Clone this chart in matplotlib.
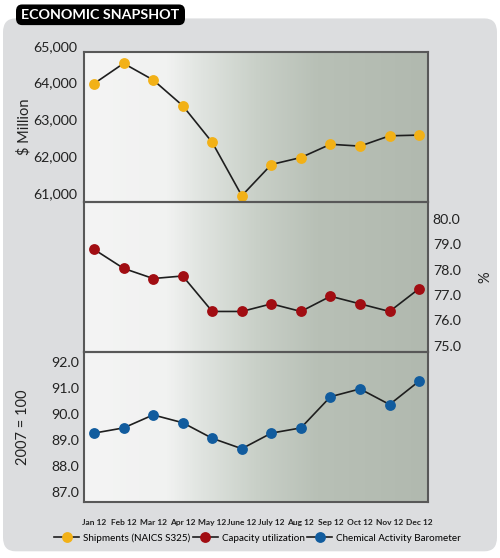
import numpy as np
import matplotlib.pyplot as plt
from matplotlib.colors import LinearSegmentedColormap
from matplotlib.patches import FancyBboxPatch
from matplotlib.lines import Line2D

# Data
months = ['Jan 12', 'Feb 12', 'Mar 12', 'Apr 12', 'May 12', 'June 12',
          'July 12', 'Aug 12', 'Sep 12', 'Oct 12', 'Nov 12', 'Dec 12']
shipments = [64000, 64550, 64100, 63400, 62400, 60950,
             61800, 61990, 62350, 62300, 62580, 62600]
capacity = [78.8, 78.05, 77.65, 77.75, 76.35, 76.35,
            76.65, 76.35, 76.95, 76.65, 76.35, 77.25]
barometer = [89.25, 89.45, 89.95, 89.65, 89.05, 88.65,
             89.25, 89.45, 90.65, 90.95, 90.35, 91.25]

ship_ticks = [61000, 62000, 63000, 64000, 65000]
cap_ticks = [75.0, 76.0, 77.0, 78.0, 79.0, 80.0]
bar_ticks = [87.0, 88.0, 89.0, 90.0, 91.0, 92.0]

plt.rcParams['font.family'] = ['Lato', 'DejaVu Sans']

yellow = '#f2b117'
red = '#a10d12'
blue = '#115c9e'
line_col = '#1e1e1e'
frame_col = '#585858'
txt = '#222222'

fig = plt.figure(figsize=(5.0, 5.58), dpi=100)
fig.patch.set_facecolor('white')

# grey rounded panel + title tab
bg = FancyBboxPatch((0.006, 0.012), 0.988, 0.955, boxstyle='round,pad=0,rounding_size=0.025',
                    transform=fig.transFigure, facecolor='#dcdddf', edgecolor='none', zorder=0)
fig.patches.append(bg)
tab = FancyBboxPatch((0.032, 0.955), 0.338, 0.037, boxstyle='round,pad=0,rounding_size=0.012',
                     transform=fig.transFigure, facecolor='black', edgecolor='none', zorder=1)
fig.patches.append(tab)
fig.text(0.201, 0.9735, 'ECONOMIC SNAPSHOT', color='white', fontsize=10.3,
         fontweight='bold', ha='center', va='center')

left, width = 0.168, 0.688
h = 150 / 558
bottoms = [1 - 202 / 558, 1 - 352 / 558, 1 - 502 / 558]

# gradient background behind the three panels
gax = fig.add_axes([left, bottoms[2], width, 3 * h], zorder=1)
cmap = LinearSegmentedColormap.from_list('bg', [
    (0.0, '#f4f4f4'), (0.24, '#f1f2f1'), (0.34, '#e0e4e0'), (0.5, '#c9d0c8'),
    (0.68, '#b8c0b6'), (1.0, '#b1b9af')])
gax.imshow(np.linspace(0, 1, 300).reshape(1, -1), aspect='auto', cmap=cmap,
           extent=[0, 1, 0, 1])
gax.set_axis_off()

x = np.arange(len(months))
axes = []
for b in bottoms:
    ax = fig.add_axes([left, b, width, h], zorder=2)
    ax.patch.set_alpha(0)
    for s in ax.spines.values():
        s.set_color(frame_col)
        s.set_linewidth(1.5)
    ax.set_xlim(-0.34, 11.3)
    ax.tick_params(length=0, labelsize=10.2, colors=txt)
    axes.append(ax)

ax1, ax2, ax3 = axes
mk = dict(marker='o', markersize=7.8, markeredgewidth=0, color=line_col, linewidth=1.2)

ax1.plot(x, shipments, markerfacecolor=yellow, **mk)
ax1.set_ylim(60780, 64860)
ax1.set_yticks([])
for t in ship_ticks:
    ax1.text(-0.02, t, f'{t:,}', transform=ax1.get_yaxis_transform(), ha='right',
             va='center', fontsize=10.2, color=txt, clip_on=False)
ax1.set_ylabel('\\$ Million', fontsize=10.5, color=txt)
ax1.set_xticks([])

ax2.plot(x, capacity, markerfacecolor=red, **mk)
ax2.set_ylim(74.75, 80.67)
ax2.set_yticks(cap_ticks, [f'{t:.1f}' for t in cap_ticks])
ax2.yaxis.tick_right()
ax2.yaxis.set_label_position('right')
ax2.set_ylabel('%', fontsize=10.5, rotation=90, color=txt)
ax2.yaxis.set_label_coords(1.145, 0.5)
ax2.set_xticks([])

ax3.plot(x, barometer, markerfacecolor=blue, **mk)
ax3.set_ylim(86.6, 92.37)
ax3.set_yticks(bar_ticks, [f'{t:.1f}' for t in bar_ticks])
ax3.set_ylabel('2007 = 100', fontsize=10.5, color=txt)
ax3.set_xticks(x, months)
ax3.tick_params(axis='x', labelsize=6.0, pad=12)
for lab in ax3.get_xticklabels():
    lab.set_fontweight('bold')
ax1.yaxis.set_label_coords(-0.153, 0.5)
ax3.yaxis.set_label_coords(-0.158, 0.5)

handles = [Line2D([], [], markerfacecolor=c, **mk) for c in (yellow, red, blue)]
fig.legend(handles, ['Shipments (NAICS S325)', 'Capacity utilization', 'Chemical Activity Barometer'],
           loc='center', bbox_to_anchor=(0.515, 0.036), ncol=3, frameon=False,
           fontsize=7.1, handlelength=2.5, handletextpad=0.4, columnspacing=0.3)

fig.savefig('out.png', dpi=100)
